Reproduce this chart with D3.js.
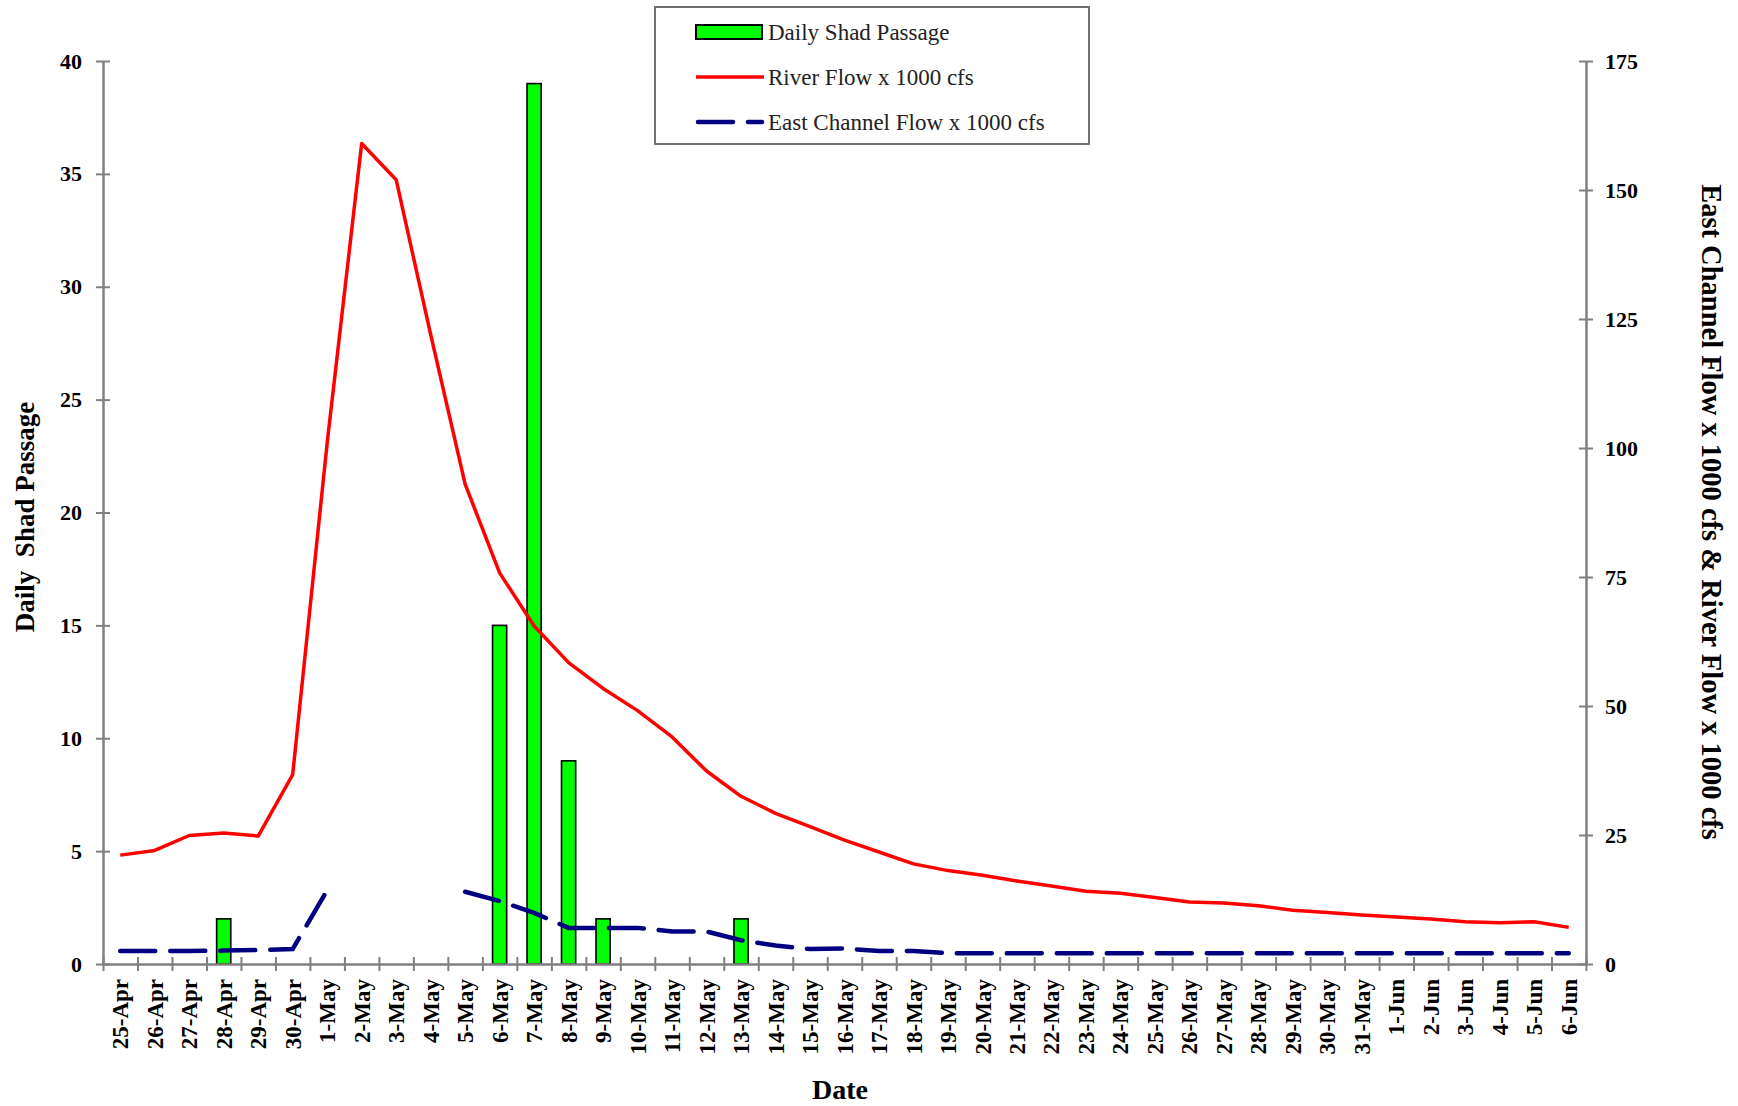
<!DOCTYPE html>
<html lang="en">
<head>
<meta charset="UTF-8">
<title>Daily Shad Passage</title>
<style>
  body { margin: 0; background: #fff; }
  text { font-family: "Liberation Serif", "Times New Roman", serif; }
</style>
</head>
<body>
<script src="https://d3js.org/d3.v7.min.js"></script>
<script>
var dates = ['25-Apr', '26-Apr', '27-Apr', '28-Apr', '29-Apr', '30-Apr',
  '1-May', '2-May', '3-May', '4-May', '5-May', '6-May', '7-May', '8-May', '9-May', '10-May',
  '11-May', '12-May', '13-May', '14-May', '15-May', '16-May', '17-May', '18-May', '19-May', '20-May',
  '21-May', '22-May', '23-May', '24-May', '25-May', '26-May', '27-May', '28-May', '29-May', '30-May', '31-May',
  '1-Jun', '2-Jun', '3-Jun', '4-Jun', '5-Jun', '6-Jun']

// fish counts (left axis)
var shadPassage = [0, 0, 0, 2, 0, 0,
  0, 0, 0, 0, 0, 15, 39, 9, 2, 0,
  0, 0, 2, 0, 0, 0, 0, 0, 0, 0,
  0, 0, 0, 0, 0, 0, 0, 0, 0, 0, 0,
  0, 0, 0, 0, 0, 0]

// flows x 1000 cfs (right axis)
var riverFlow = [21.1, 22.0, 24.9, 25.4, 24.8, 36.7,
  101, 159, 152, 122, 93, 75.8, 65.5, 58.4, 53.4, 49.1,
  44.0, 37.4, 32.5, 29.2, 26.6, 24.0, 21.7, 19.4, 18.1, 17.2,
  16.1, 15.1, 14.1, 13.7, 12.9, 12.0, 11.8, 11.3, 10.4, 10.0, 9.5,
  9.1, 8.7, 8.2, 8.0, 8.2, 7.1]

var eastChannelFlow = [2.5, 2.5, 2.5, 2.6, 2.7, 2.9,
  14.3, null, null, null, 14.0, 12.2, 9.9, 7.0, 7.0, 7.0,
  6.3, 6.3, 4.6, 3.6, 2.9, 3.0, 2.5, 2.5, 2.1, 2.1,
  2.1, 2.1, 2.1, 2.1, 2.1, 2.1, 2.1, 2.1, 2.1, 2.1, 2.1,
  2.1, 2.1, 2.1, 2.1, 2.1, 2.1]

var leftTicks = [0, 5, 10, 15, 20, 25, 30, 35, 40]
var rightTicks = [0, 25, 50, 75, 100, 125, 150, 175]

var legendItems = ['Daily Shad Passage', 'River Flow x 1000 cfs', 'East Channel Flow x 1000 cfs']

var width = 1738, height = 1106
var margin = { left: 103, right: 152, top: 61, bottom: 142 }
var axisColor = '#808080'

var svg = d3.select('body').append('svg')
  .attr('width', width)
  .attr('height', height)

var x = d3.scaleBand().domain(dates).range([margin.left, width - margin.right])
var xEdge = d3.scaleLinear().domain([0, dates.length]).range([margin.left, width - margin.right])
var yL = d3.scaleLinear().domain([0, 40]).range([height - margin.bottom, margin.top])
var yR = d3.scaleLinear().domain([0, 175]).range([height - margin.bottom, margin.top])
var baseY = height - margin.bottom

// bars
var barW = x.bandwidth() * 0.41
svg.append('g').selectAll('rect')
  .data(dates.map(function (d, i) { return { date: d, v: shadPassage[i] } }).filter(function (d) { return d.v > 0 }))
  .enter().append('rect')
  .attr('x', function (d) { return x(d.date) + (x.bandwidth() - barW) / 2 })
  .attr('y', function (d) { return yL(d.v) })
  .attr('width', barW)
  .attr('height', function (d) { return baseY - yL(d.v) })
  .attr('fill', '#00ff00')
  .attr('stroke', '#000')
  .attr('stroke-width', 1.6)

// axes
function styleAxis(g) {
  g.select('.domain').attr('stroke', axisColor).attr('stroke-width', 2.5)
  g.selectAll('.tick line').attr('stroke', axisColor).attr('stroke-width', 2)
  g.selectAll('text').attr('fill', '#000').style('font-weight', 'bold')
    .style('font-family', '"Liberation Serif", "Times New Roman", serif')
}

var gL = svg.append('g').attr('transform', 'translate(' + margin.left + ',0)')
  .call(d3.axisLeft(yL).tickValues(leftTicks).tickSize(7).tickSizeOuter(0).tickPadding(14))
gL.selectAll('.tick line').attr('x1', 7)
gL.selectAll('text').style('font-size', '22px')
styleAxis(gL)

var gR = svg.append('g').attr('transform', 'translate(' + (width - margin.right) + ',0)')
  .call(d3.axisRight(yR).tickValues(rightTicks).tickSize(7).tickSizeOuter(0).tickPadding(12))
gR.selectAll('.tick line').attr('x1', -7)
gR.selectAll('text').style('font-size', '22px')
styleAxis(gR)

var gX = svg.append('g').attr('transform', 'translate(0,' + baseY + ')')
  .call(d3.axisBottom(xEdge).tickValues(d3.range(0, dates.length + 1)).tickFormat('').tickSize(7).tickSizeOuter(0))
gX.selectAll('.tick line').attr('y1', -7)
styleAxis(gX)

var gXL = svg.append('g').attr('transform', 'translate(0,' + baseY + ')')
  .call(d3.axisBottom(x).tickSize(0))
gXL.select('.domain').remove()
gXL.selectAll('text')
  .attr('y', 0).attr('x', -15).attr('dy', '0.35em')
  .attr('transform', 'rotate(-90)')
  .style('text-anchor', 'end')
  .style('font-size', '23px')
  .style('font-weight', 'bold')
  .attr('fill', '#000')

// lines
var riverLine = d3.line()
  .x(function (d, i) { return x(dates[i]) + x.bandwidth() / 2 })
  .y(function (d) { return yR(d) })

var eastLine = d3.line()
  .defined(function (d) { return d != null })
  .x(function (d, i) { return x(dates[i]) + x.bandwidth() / 2 })
  .y(function (d) { return yR(d) })

svg.append('path').datum(riverFlow)
  .attr('d', riverLine)
  .attr('fill', 'none')
  .attr('stroke', '#ff0000')
  .attr('stroke-width', 3.5)
  .attr('stroke-linejoin', 'round')

svg.append('path').datum(eastChannelFlow)
  .attr('d', eastLine)
  .attr('fill', 'none')
  .attr('stroke', '#000080')
  .attr('stroke-width', 4.5)
  .attr('stroke-dasharray', '35,15')
  .attr('stroke-linecap', 'round')

// axis titles
svg.append('text')
  .attr('transform', 'translate(34,517) rotate(-90)')
  .attr('text-anchor', 'middle')
  .style('font-size', '27px').style('font-weight', 'bold')
  .style('white-space', 'pre')
  .text('Daily  Shad Passage')

svg.append('text')
  .attr('transform', 'translate(1702,512) rotate(90)')
  .attr('text-anchor', 'middle')
  .style('font-size', '28.5px').style('font-weight', 'bold')
  .text('East Channel Flow x 1000 cfs & River Flow x 1000 cfs')

svg.append('text')
  .attr('x', 840).attr('y', 1099)
  .attr('text-anchor', 'middle')
  .style('font-size', '28px').style('font-weight', 'bold')
  .text('Date')

// legend
var lg = svg.append('g').attr('transform', 'translate(655,7)')
lg.append('rect')
  .attr('width', 434).attr('height', 137)
  .attr('fill', '#fff').attr('stroke', '#707070').attr('stroke-width', 2)

var row = lg.selectAll('.row').data(legendItems).enter().append('g')
  .attr('transform', function (d, i) { return 'translate(41,' + (25 + i * 45) + ')' })

row.append('text')
  .attr('x', 72).attr('dy', '0.35em')
  .style('font-size', '23px').attr('fill', '#222')
  .text(function (d) { return d })

row.filter(function (d, i) { return i === 0 }).append('rect')
  .attr('x', 0).attr('y', -7).attr('width', 66).attr('height', 14)
  .attr('fill', '#00ff00').attr('stroke', '#000').attr('stroke-width', 2)

row.filter(function (d, i) { return i === 1 }).append('line')
  .attr('x1', 0).attr('x2', 68)
  .attr('stroke', '#ff0000').attr('stroke-width', 3.5)

row.filter(function (d, i) { return i === 2 }).append('line')
  .attr('x1', 2).attr('x2', 66)
  .attr('stroke', '#000080').attr('stroke-width', 4.5)
  .attr('stroke-dasharray', '35,15').attr('stroke-linecap', 'round')
</script>
</body>
</html>
